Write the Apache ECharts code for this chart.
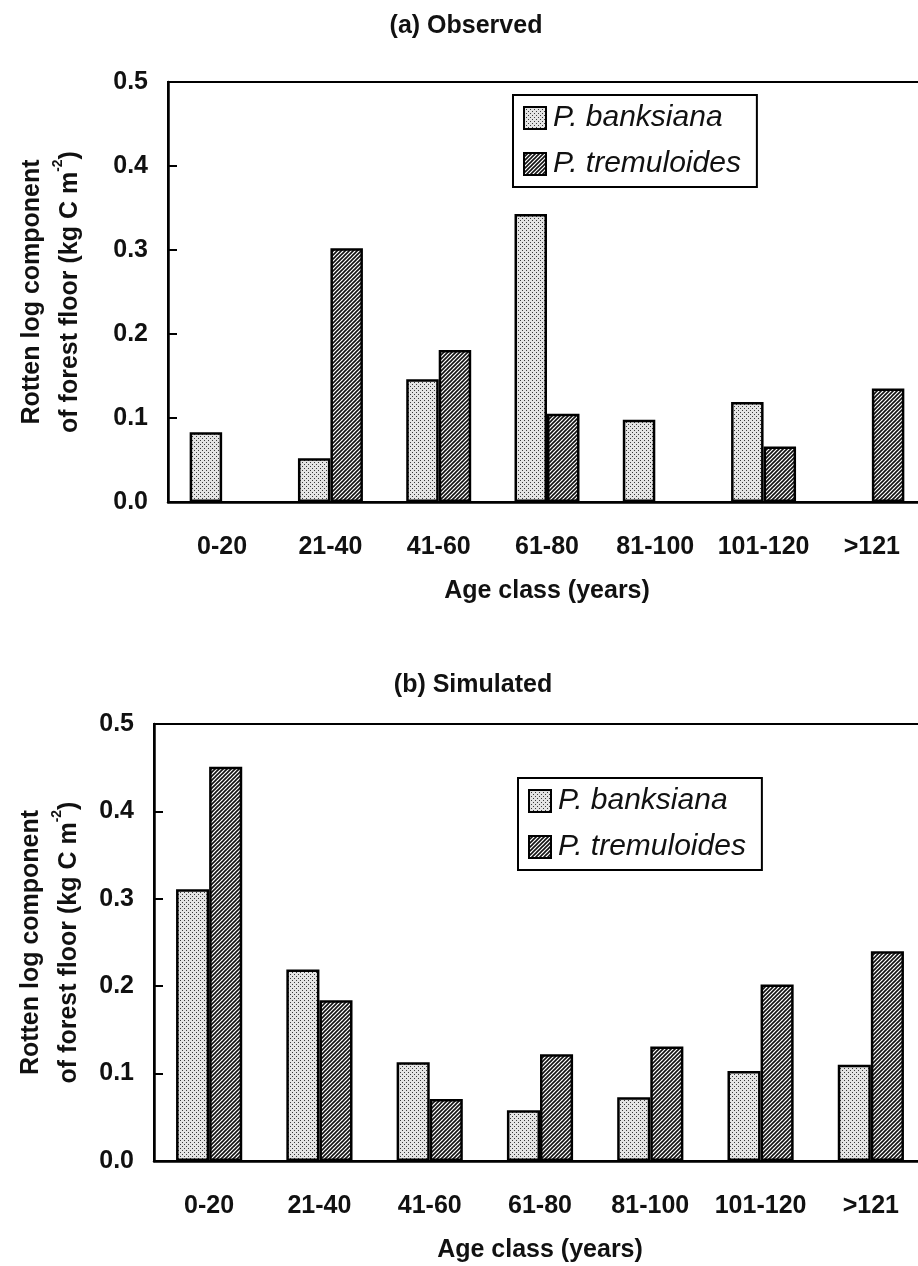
<!DOCTYPE html>
<html>
<head>
<meta charset="utf-8">
<title>Rotten log component of forest floor</title>
<script src="https://cdn.jsdelivr.net/npm/echarts@6/dist/echarts.min.js"></script>
<style>
  html, body { margin: 0; padding: 0; background: #fff; }
  #chart { width: 918px; height: 1266px; }
</style>
</head>
<body>
<div id="chart"></div>
<script>
// Age classes shared by both panels
const ageClasses = ['0-20', '21-40', '41-60', '61-80', '81-100', '101-120', '>121'];

// (a) Observed rotten log C (kg C m^-2); null = no stand in that class
const observedBanksiana   = [0.083, 0.052, 0.146, 0.343, 0.098, 0.119, null];
const observedTremuloides = [null, 0.302, 0.181, 0.105, null, 0.066, 0.135];

// (b) Simulated rotten log C (kg C m^-2)
const simulatedBanksiana   = [0.311, 0.219, 0.113, 0.058, 0.073, 0.103, 0.110];
const simulatedTremuloides = [0.451, 0.184, 0.071, 0.122, 0.131, 0.202, 0.240];

const yTicks = { min: 0, max: 0.5, interval: 0.1 };
const speciesNames = ['P. banksiana', 'P. tremuloides'];

const FONT = '"Liberation Sans", Arial, Helvetica, sans-serif';

// Fine stipple fill for jack pine
function makeStipple() {
  const c = document.createElement('canvas');
  c.width = 4; c.height = 4;
  const g = c.getContext('2d');
  g.fillStyle = '#e4e4e4';
  g.fillRect(0, 0, 4, 4);
  g.fillStyle = '#3a3a3a';
  g.fillRect(0, 0, 1, 1);
  g.fillRect(2, 2, 1, 1);
  return c;
}

// Dense "////" hatching for trembling aspen
function makeHatch() {
  const s = 4;
  const c = document.createElement('canvas');
  c.width = s; c.height = s;
  const g = c.getContext('2d');
  g.fillStyle = '#ffffff';
  g.fillRect(0, 0, s, s);
  g.strokeStyle = '#111';
  g.lineWidth = 1.6;
  g.beginPath();
  g.moveTo(-1, s + 1); g.lineTo(s + 1, -1);
  g.moveTo(-1, 1); g.lineTo(1, -1);
  g.moveTo(s - 1, s + 1); g.lineTo(s + 1, s - 1);
  g.stroke();
  return c;
}

const stippleFill = { image: makeStipple(), repeat: 'repeat' };
const hatchFill = { image: makeHatch(), repeat: 'repeat' };

const chart = echarts.init(document.getElementById('chart'), null, { renderer: 'canvas' });

// The plot frame runs past the right edge of the page, so only three sides show
function grid(top, height, left) {
  return {
    left: left, top: top, height: height, right: -8,
    outerBoundsMode: 'none', containLabel: false,
    show: true, borderColor: '#000', borderWidth: 2, backgroundColor: 'transparent'
  };
}

function xAxis(gridIndex) {
  return {
    type: 'category', gridIndex: gridIndex, data: ageClasses,
    name: 'Age class (years)', nameLocation: 'middle', nameGap: 77,
    nameTextStyle: { fontFamily: FONT, fontWeight: 'bold', fontSize: 25, color: '#111' },
    axisLine: { lineStyle: { color: '#000', width: 2.5 } },
    axisTick: { inside: true, length: 9, interval: 0, lineStyle: { color: '#000', width: 2 } },
    axisLabel: { interval: 0, margin: 33, fontFamily: FONT, fontWeight: 'bold', fontSize: 25, color: '#111' },
    splitLine: { show: false }
  };
}

function yAxis(gridIndex, gap) {
  return {
    type: 'value', gridIndex: gridIndex,
    min: yTicks.min, max: yTicks.max, interval: yTicks.interval,
    name: 'Rotten log component\nof forest floor (kg C m{sup|-2})',
    nameLocation: 'middle', nameRotate: 90, nameGap: gap,
    nameTextStyle: {
      fontFamily: FONT, fontWeight: 'bold', fontSize: 25, color: '#111', lineHeight: 38,
      rich: { sup: { fontFamily: FONT, fontWeight: 'bold', fontSize: 14, verticalAlign: 'top', lineHeight: 38, color: '#111' } }
    },
    axisLine: { show: true, lineStyle: { color: '#000', width: 2.5 } },
    axisTick: { show: true, inside: true, length: 9, lineStyle: { color: '#000', width: 2 } },
    axisLabel: {
      margin: 20, fontFamily: FONT, fontWeight: 'bold', fontSize: 25, color: '#111',
      formatter: v => v.toFixed(1)
    },
    splitLine: { show: false }
  };
}

function barSeries(name, data, idx, fill) {
  return {
    type: 'bar', name: name, data: data,
    xAxisIndex: idx, yAxisIndex: idx,
    barWidth: '30%', barGap: '0%',
    itemStyle: { color: fill, borderColor: '#000', borderWidth: 2.5 },
    emphasis: { disabled: true },
    animation: false
  };
}

function legend(left, top) {
  return {
    left: left, top: top, orient: 'vertical',
    data: speciesNames,
    icon: 'rect', itemWidth: 22, itemHeight: 22, itemGap: 10,
    padding: [5, 16, 5, 10],
    borderColor: '#000', borderWidth: 2, backgroundColor: '#fff',
    selectedMode: false,
    textStyle: { fontFamily: FONT, fontStyle: 'italic', fontSize: 30, lineHeight: 36, color: '#111', padding: [0, 0, 0, 2] }
  };
}

chart.setOption({
  backgroundColor: '#fff',
  animation: false,
  title: [
    { text: '(a) Observed', left: 461, top: 9, textAlign: 'center',
      textStyle: { fontFamily: FONT, fontWeight: 'bold', fontSize: 25, color: '#111' } },
    { text: '(b) Simulated', left: 468, top: 668, textAlign: 'center',
      textStyle: { fontFamily: FONT, fontWeight: 'bold', fontSize: 25, color: '#111' } }
  ],
  grid: [grid(82, 420, 168), grid(724, 437, 154)],
  xAxis: [xAxis(0), xAxis(1)],
  yAxis: [yAxis(0, 79), yAxis(1, 65)],
  legend: [legend(513, 95), legend(518, 778)],
  series: [
    barSeries(speciesNames[0], observedBanksiana, 0, stippleFill),
    barSeries(speciesNames[1], observedTremuloides, 0, hatchFill),
    barSeries(speciesNames[0], simulatedBanksiana, 1, stippleFill),
    barSeries(speciesNames[1], simulatedTremuloides, 1, hatchFill)
  ]
});
</script>
</body>
</html>
